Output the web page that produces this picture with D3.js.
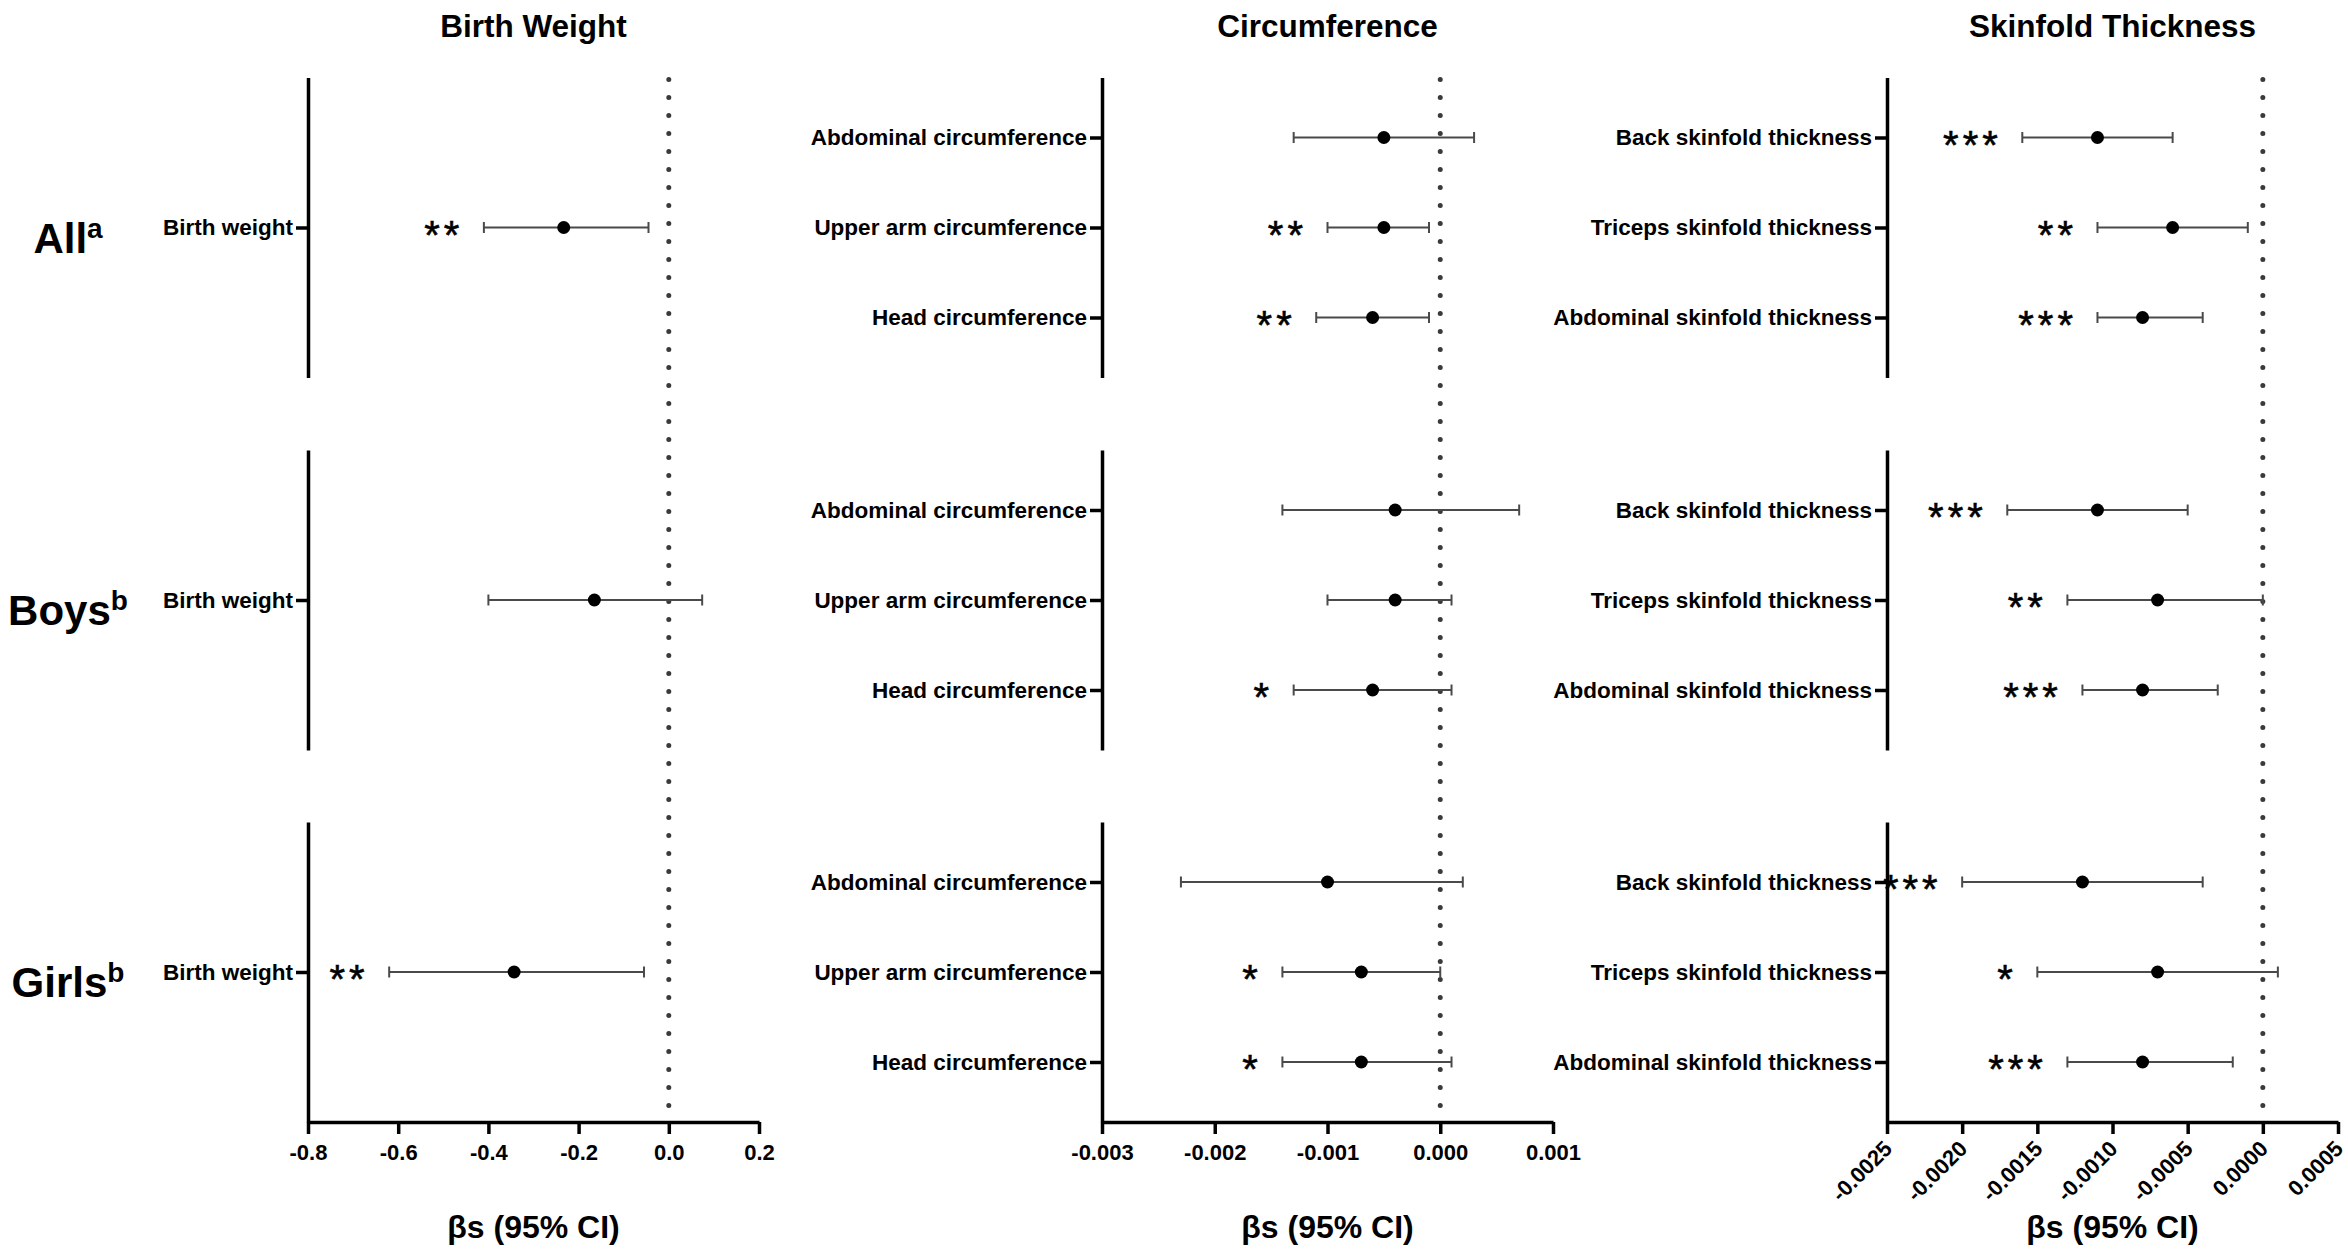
<!DOCTYPE html>
<html><head><meta charset="utf-8">
<script src="https://cdn.jsdelivr.net/npm/d3@7"></script>
<style>html,body{margin:0;padding:0;background:#fff;} svg{display:block;}</style>
</head><body>
<svg id="chart" width="2348" height="1252"></svg>
<script>
// ---------- data ----------
const columnTitles = ["Birth Weight", "Circumference", "Skinfold Thickness"];
const groups = ["All", "Boys", "Girls"];
const groupSup = ["a", "b", "b"];
const xAxisTitle = "βs (95% CI)";

const bwCategories = ["Birth weight"];
const circCategories = ["Abdominal circumference", "Upper arm circumference", "Head circumference"];
const skinCategories = ["Back skinfold thickness", "Triceps skinfold thickness", "Abdominal skinfold thickness"];

const bwTicks = [-0.8, -0.6, -0.4, -0.2, 0.0, 0.2];
const circTicks = [-0.003, -0.002, -0.001, 0.000, 0.001];
const skinTicks = [-0.0025, -0.0020, -0.0015, -0.0010, -0.0005, 0.0000, 0.0005];

// values indexed [group][category]  (All, Boys, Girls)
const bwBeta = [[-0.233], [-0.165], [-0.343]];
const bwLow  = [[-0.41],  [-0.40],  [-0.62]];
const bwHigh = [[-0.045], [0.074],  [-0.055]];
const bwStars = [["**"], [""], ["**"]];

const circBeta = [[-0.0005, -0.0005, -0.0006], [-0.0004, -0.0004, -0.0006], [-0.0010, -0.0007, -0.0007]];
const circLow  = [[-0.0013, -0.0010, -0.0011], [-0.0014, -0.0010, -0.0013], [-0.0023, -0.0014, -0.0014]];
const circHigh = [[0.0003, -0.0001, -0.0001], [0.0007, 0.0001, 0.0001], [0.0002, 0.0000, 0.0001]];
const circStars = [["", "**", "**"], ["", "", "*"], ["", "*", "*"]];

const skinBeta = [[-0.0011, -0.0006, -0.0008], [-0.0011, -0.0007, -0.0008], [-0.0012, -0.0007, -0.0008]];
const skinLow  = [[-0.0016, -0.0011, -0.0011], [-0.0017, -0.0013, -0.0012], [-0.0020, -0.0015, -0.0013]];
const skinHigh = [[-0.0006, -0.0001, -0.0004], [-0.0005, 0.0000, -0.0003], [-0.0004, 0.0001, -0.0002]];
const skinStars = [["***", "**", "***"], ["***", "**", "***"], ["***", "*", "***"]];

// ---------- layout ----------
const FONT = "'Liberation Sans', Arial, Helvetica, sans-serif";
const colX = [308, 1102, 1887];
const colW = 451;
const rowTop = [77.5, 450, 822];
const rowH = 300;

const loc = d3.formatLocale({decimal: ".", thousands: ",", grouping: [3], currency: ["", ""], minus: "-"});

const panels = [
  {cats: bwCategories, beta: bwBeta, lo: bwLow, hi: bwHigh, stars: bwStars, ticks: bwTicks, fmt: ".1f", rotate: false},
  {cats: circCategories, beta: circBeta, lo: circLow, hi: circHigh, stars: circStars, ticks: circTicks, fmt: ".3f", rotate: false},
  {cats: skinCategories, beta: skinBeta, lo: skinLow, hi: skinHigh, stars: skinStars, ticks: skinTicks, fmt: ".4f", rotate: true}
];

const svg = d3.select("#chart");
svg.append("rect").attr("width", 2348).attr("height", 1252).attr("fill", "#fff");

// row labels
groups.forEach((g, gi) => {
  const cy = rowTop[gi] + rowH / 2;
  const t = svg.append("text")
    .attr("x", 68).attr("y", cy + 25)
    .attr("text-anchor", "middle")
    .attr("font-family", FONT).attr("font-weight", "bold")
    .attr("font-size", 42).attr("fill", "#000");
  t.append("tspan").text(g);
  t.append("tspan").attr("font-size", 28).attr("dy", -15).text(groupSup[gi]);
});

panels.forEach((p, ci) => {
  const x = d3.scaleLinear()
    .domain([p.ticks[0], p.ticks[p.ticks.length - 1]])
    .range([colX[ci], colX[ci] + colW]);

  // column title
  svg.append("text")
    .attr("x", colX[ci] + colW / 2).attr("y", 37)
    .attr("text-anchor", "middle")
    .attr("font-family", FONT).attr("font-weight", "bold").attr("font-size", 31.5)
    .text(columnTitles[ci]);

  // dotted zero line
  svg.append("line")
    .attr("x1", x(0)).attr("x2", x(0))
    .attr("y1", rowTop[0] + 2).attr("y2", rowTop[2] + rowH)
    .attr("stroke", "#3a3a3a").attr("stroke-width", 5)
    .attr("stroke-linecap", "round").attr("stroke-dasharray", "0,18");

  groups.forEach((g, gi) => {
    const top = rowTop[gi];
    const y = d3.scalePoint().domain(p.cats).range([top, top + rowH]).padding(2 / 3);

    const yAx = svg.append("g")
      .attr("transform", `translate(${colX[ci]},0)`)
      .call(d3.axisLeft(y).tickSize(12).tickSizeOuter(0).tickPadding(3));
    yAx.select(".domain").attr("stroke", "#000").attr("stroke-width", 3.5);
    yAx.selectAll(".tick line").attr("stroke", "#000").attr("stroke-width", 3.5);
    yAx.selectAll(".tick text")
      .attr("font-family", FONT).attr("font-weight", "bold").attr("font-size", 22.5).attr("fill", "#000");

    const rows = p.cats.map((c, k) => ({
      cat: c, beta: p.beta[gi][k], lo: p.lo[gi][k], hi: p.hi[gi][k], stars: p.stars[gi][k]
    }));

    const gEl = svg.append("g");
    // CI line
    gEl.selectAll("line.ci").data(rows).join("line").attr("class", "ci")
      .attr("x1", d => x(d.lo)).attr("x2", d => x(d.hi))
      .attr("y1", d => y(d.cat)).attr("y2", d => y(d.cat))
      .attr("stroke", "#4a4a4a").attr("stroke-width", 2);
    // caps
    ["lo", "hi"].forEach(k => {
      gEl.selectAll("line.cap" + k).data(rows).join("line").attr("class", "cap" + k)
        .attr("x1", d => x(d[k])).attr("x2", d => x(d[k]))
        .attr("y1", d => y(d.cat) - 5.5).attr("y2", d => y(d.cat) + 5.5)
        .attr("stroke", "#4a4a4a").attr("stroke-width", 2);
    });
    // points
    gEl.selectAll("circle").data(rows).join("circle")
      .attr("cx", d => x(d.beta)).attr("cy", d => y(d.cat)).attr("r", 6.5).attr("fill", "#000");
    // stars
    gEl.selectAll("text.star").data(rows.filter(d => d.stars)).join("text").attr("class", "star")
      .attr("x", d => x(d.lo) - 20.5).attr("y", d => y(d.cat) + 21)
      .attr("text-anchor", "end")
      .attr("font-family", FONT).attr("font-size", 40).attr("letter-spacing", 4)
      .attr("stroke", "#000").attr("stroke-width", 0.6)
      .attr("fill", "#000")
      .text(d => d.stars);
  });

  // x axis at bottom
  const bottom = rowTop[2] + rowH;
  const xAx = svg.append("g")
    .attr("transform", `translate(0,${bottom})`)
    .call(d3.axisBottom(x).tickValues(p.ticks).tickFormat(loc.format(p.fmt))
      .tickSize(12).tickSizeOuter(0).tickPadding(10));
  xAx.select(".domain").attr("stroke", "#000").attr("stroke-width", 3.5);
  xAx.selectAll(".tick line").attr("stroke", "#000").attr("stroke-width", 3.5);
  const tt = xAx.selectAll(".tick text")
    .attr("font-family", FONT).attr("font-weight", "bold").attr("font-size", 22).attr("fill", "#000");
  if (p.rotate) {
    tt.attr("x", 0).attr("y", 0).attr("dy", 0)
      .attr("text-anchor", "end")
      .attr("transform", "translate(6,28) rotate(-45)");
  }

  // x axis title
  svg.append("text")
    .attr("x", colX[ci] + colW / 2).attr("y", 1238)
    .attr("text-anchor", "middle")
    .attr("font-family", FONT).attr("font-weight", "bold").attr("font-size", 32)
    .text(xAxisTitle);
});
</script>
</body></html>
